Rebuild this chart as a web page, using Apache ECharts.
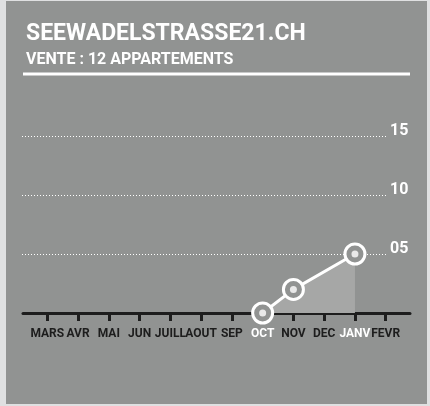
<!DOCTYPE html>
<html>
<head>
<meta charset="utf-8">
<script src="https://cdn.jsdelivr.net/npm/echarts@6/dist/echarts.min.js"></script>
<style>
  html, body { margin: 0; padding: 0; background: #dfe0e1; }
  #chart { width: 430px; height: 406px; }
</style>
</head>
<body>
<div id="chart"></div>
<script>
  // mois de vente
  var months = ['MARS', 'AVR', 'MAI', 'JUN', 'JUILL', 'AOUT', 'SEP', 'OCT', 'NOV', 'DEC', 'JANV', 'FEVR'];
  // appartements vendus (cumul), DEC sans point
  var sold = [null, null, null, null, null, null, null, 0, 2, null, 5, null];
  var yTicks = [0, 5, 10, 15];
  var yLabels = ['', '05', '10', '15'];
  var whiteMonths = ['OCT', 'JANV'];

  var font = 'Roboto, sans-serif';
  var bg = '#919392';
  var dark = '#1d1d1d';

  var chart = echarts.init(document.getElementById('chart'));
  chart.setOption({
    animation: false,
    graphic: [
      { type: 'rect', z: -10, shape: { x: 6, y: 1, width: 421, height: 403 }, style: { fill: bg } },
      { type: 'rect', z: 5, shape: { x: 23, y: 72.5, width: 387, height: 3 }, style: { fill: '#ffffff' } }
    ],
    title: {
      text: 'SEEWADELSTRASSE21.CH',
      subtext: 'VENTE : 12 APPARTEMENTS',
      left: 21,
      top: 18,
      itemGap: 6,
      textStyle: { color: '#fff', fontFamily: font, fontWeight: 'bold', fontSize: 23 },
      subtextStyle: { color: '#fff', fontFamily: font, fontWeight: 'bold', fontSize: 16 }
    },
    grid: [
      // lignes pointillees + etiquettes
      { left: 22, right: 42, top: 136, bottom: 93 },
      // donnees + mois
      { left: 31.9, right: 28.9, top: 136, bottom: 93 },
      // ligne de base
      { left: 23, right: 20, top: 136, bottom: 93 }
    ],
    xAxis: [
      { gridIndex: 0, type: 'value', show: false },
      {
        gridIndex: 1,
        type: 'category',
        data: months,
        boundaryGap: true,
        axisLine: { show: false },
        axisTick: { show: true, alignWithLabel: true, length: 8, lineStyle: { color: dark, width: 3 } },
        axisLabel: {
          interval: 0,
          margin: 15,
          fontFamily: font,
          fontWeight: 'bold',
          fontSize: 12,
          color: function (v) { return whiteMonths.indexOf(v) >= 0 ? '#ffffff' : dark; }
        }
      },
      {
        gridIndex: 2,
        type: 'value',
        axisLine: { show: true, lineStyle: { color: dark, width: 3 } },
        axisTick: { show: false },
        axisLabel: { show: false },
        splitLine: { show: false }
      }
    ],
    yAxis: [
      {
        gridIndex: 0,
        type: 'value',
        position: 'right',
        min: 0,
        max: 15,
        interval: 5,
        axisLine: { show: false },
        axisTick: { show: false },
        axisLabel: {
          margin: 2,
          verticalAlign: 'bottom',
          fontFamily: font,
          fontWeight: 'bold',
          fontSize: 16,
          color: '#fff',
          lineHeight: 14,
          padding: [0, 0, -2, 0],
          formatter: function (v) { return yLabels[yTicks.indexOf(v)]; }
        },
        splitLine: {
          show: true,
          lineStyle: { color: ['transparent', '#fff', '#fff', '#fff'], type: [1, 2], width: 1 }
        }
      },
      { gridIndex: 1, type: 'value', min: 0, max: 15, show: false },
      { gridIndex: 2, type: 'value', min: 0, max: 15, show: false }
    ],
    series: [
      {
        type: 'line',
        xAxisIndex: 1,
        yAxisIndex: 1,
        data: sold,
        connectNulls: true,
        symbol: 'circle',
        symbolSize: 20,
        lineStyle: { color: '#fff', width: 3 },
        itemStyle: { color: bg, borderColor: '#fff', borderWidth: 3 },
        areaStyle: { color: '#a6a7a6', opacity: 1 },
        z: 3
      },
      {
        type: 'scatter',
        xAxisIndex: 1,
        yAxisIndex: 1,
        data: sold,
        symbolSize: 7,
        itemStyle: { color: '#fff' },
        z: 4
      }
    ]
  });
</script>
</body>
</html>
